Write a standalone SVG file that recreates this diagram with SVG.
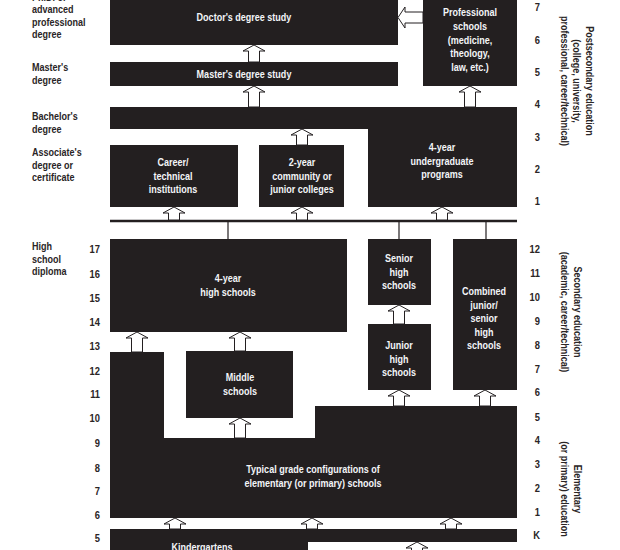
<svg xmlns="http://www.w3.org/2000/svg" width="620" height="550" viewBox="0 0 620 550">
<style>
  .box { fill: #231f20; }
  .t { font-family: "Liberation Sans", Arial, sans-serif; font-weight: bold; font-size: 11px; fill: #f3f5f8; text-anchor: middle; }
  .lab { font-family: "Liberation Sans", Arial, sans-serif; font-weight: bold; font-size: 11px; fill: #2a2526; }
  .num { font-family: "Liberation Sans", Arial, sans-serif; font-weight: bold; font-size: 11px; fill: #2a2526; text-anchor: end; }
  .vt { font-family: "Liberation Sans", Arial, sans-serif; font-weight: bold; font-size: 11px; fill: #2a2526; text-anchor: middle; }
  .arr { fill: #ffffff; stroke: #231f20; stroke-width: 1; stroke-linejoin: miter; }
  .rule { stroke: #231f20; stroke-width: 2.6; fill: none; }
  .vl { stroke: #231f20; stroke-width: 1.2; fill: none; }
</style>
<rect width="620" height="550" fill="#ffffff"/>

<!-- Left level labels -->
<g id="left-labels">
  <text class="lab" transform="translate(32,1) scale(0.82,1)">Ph.D. or</text>
  <text class="lab" transform="translate(32,13) scale(0.82,1)">advanced</text>
  <text class="lab" transform="translate(32,25.5) scale(0.82,1)">professional</text>
  <text class="lab" transform="translate(32,38) scale(0.82,1)">degree</text>
  <text class="lab" transform="translate(32,71) scale(0.82,1)">Master's</text>
  <text class="lab" transform="translate(32,83.5) scale(0.82,1)">degree</text>
  <text class="lab" transform="translate(32,120) scale(0.82,1)">Bachelor's</text>
  <text class="lab" transform="translate(32,132.5) scale(0.82,1)">degree</text>
  <text class="lab" transform="translate(32,156) scale(0.82,1)">Associate's</text>
  <text class="lab" transform="translate(32,168.5) scale(0.82,1)">degree or</text>
  <text class="lab" transform="translate(32,181) scale(0.82,1)">certificate</text>
  <text class="lab" transform="translate(32,250) scale(0.82,1)">High</text>
  <text class="lab" transform="translate(32,262.5) scale(0.82,1)">school</text>
  <text class="lab" transform="translate(32,275) scale(0.82,1)">diploma</text>
</g>

<!-- Age numbers (left) -->
<g id="ages">
  <text class="num" transform="translate(100,253) scale(0.85,1)">17</text>
  <text class="num" transform="translate(100,278) scale(0.85,1)">16</text>
  <text class="num" transform="translate(100,302) scale(0.85,1)">15</text>
  <text class="num" transform="translate(100,326) scale(0.85,1)">14</text>
  <text class="num" transform="translate(100,350) scale(0.85,1)">13</text>
  <text class="num" transform="translate(100,375) scale(0.85,1)">12</text>
  <text class="num" transform="translate(100,398) scale(0.85,1)">11</text>
  <text class="num" transform="translate(100,422) scale(0.85,1)">10</text>
  <text class="num" transform="translate(100,447) scale(0.85,1)">9</text>
  <text class="num" transform="translate(100,472) scale(0.85,1)">8</text>
  <text class="num" transform="translate(100,495) scale(0.85,1)">7</text>
  <text class="num" transform="translate(100,519) scale(0.85,1)">6</text>
  <text class="num" transform="translate(100,542) scale(0.85,1)">5</text>
</g>

<!-- Grade / year numbers (right) -->
<g id="grades">
  <text class="num" transform="translate(540,11) scale(0.85,1)">7</text>
  <text class="num" transform="translate(540,44) scale(0.85,1)">6</text>
  <text class="num" transform="translate(540,76) scale(0.85,1)">5</text>
  <text class="num" transform="translate(540,108) scale(0.85,1)">4</text>
  <text class="num" transform="translate(540,141) scale(0.85,1)">3</text>
  <text class="num" transform="translate(540,173) scale(0.85,1)">2</text>
  <text class="num" transform="translate(540,205) scale(0.85,1)">1</text>
  <text class="num" transform="translate(540,253) scale(0.85,1)">12</text>
  <text class="num" transform="translate(540,277) scale(0.85,1)">11</text>
  <text class="num" transform="translate(540,301) scale(0.85,1)">10</text>
  <text class="num" transform="translate(540,325) scale(0.85,1)">9</text>
  <text class="num" transform="translate(540,349) scale(0.85,1)">8</text>
  <text class="num" transform="translate(540,373) scale(0.85,1)">7</text>
  <text class="num" transform="translate(540,396) scale(0.85,1)">6</text>
  <text class="num" transform="translate(540,421) scale(0.85,1)">5</text>
  <text class="num" transform="translate(540,444) scale(0.85,1)">4</text>
  <text class="num" transform="translate(540,468) scale(0.85,1)">3</text>
  <text class="num" transform="translate(540,492) scale(0.85,1)">2</text>
  <text class="num" transform="translate(540,516) scale(0.85,1)">1</text>
  <text class="num" transform="translate(540,539) scale(0.85,1)">K</text>
</g>

<!-- Vertical section labels -->
<g id="section-labels">
  <text class="vt" transform="translate(585.5,81) rotate(90) scale(0.82,1)">Postsecondary education</text>
  <text class="vt" transform="translate(573,81) rotate(90) scale(0.82,1)">(college, university,</text>
  <text class="vt" transform="translate(560.5,81) rotate(90) scale(0.82,1)">professional, career/technical)</text>
  <text class="vt" transform="translate(573.5,312) rotate(90) scale(0.82,1)">Secondary education</text>
  <text class="vt" transform="translate(560.5,312) rotate(90) scale(0.82,1)">(academic, career/technical)</text>
  <text class="vt" transform="translate(573.5,489) rotate(90) scale(0.82,1)">Elementary</text>
  <text class="vt" transform="translate(560.5,489) rotate(90) scale(0.82,1)">(or primary) education</text>
</g>

<!-- Nodes -->
<g id="doctor">
  <rect class="box" x="110" y="-10" width="288" height="55"/>
  <text class="t" transform="translate(244,21) scale(0.82,1)">Doctor's degree study</text>
</g>
<g id="professional">
  <rect class="box" x="423" y="-10" width="94" height="96"/>
  <text class="t" transform="translate(470,16) scale(0.82,1)">Professional</text>
  <text class="t" transform="translate(470,30) scale(0.82,1)">schools</text>
  <text class="t" transform="translate(470,44) scale(0.82,1)">(medicine,</text>
  <text class="t" transform="translate(470,57) scale(0.82,1)">theology,</text>
  <text class="t" transform="translate(470,71) scale(0.82,1)">law, etc.)</text>
</g>
<g id="masters">
  <rect class="box" x="110" y="62" width="288" height="24"/>
  <text class="t" transform="translate(244,78) scale(0.82,1)">Master's degree study</text>
</g>
<g id="bachelors">
  <path class="box" d="M110,107 H517 V207 H368 V129 H110 Z"/>
  <text class="t" transform="translate(442,151) scale(0.82,1)">4-year</text>
  <text class="t" transform="translate(442,165) scale(0.82,1)">undergraduate</text>
  <text class="t" transform="translate(442,178) scale(0.82,1)">programs</text>
</g>
<g id="career">
  <rect class="box" x="110" y="145" width="128" height="62"/>
  <text class="t" transform="translate(173,166) scale(0.82,1)">Career/</text>
  <text class="t" transform="translate(173,179.5) scale(0.82,1)">technical</text>
  <text class="t" transform="translate(173,193) scale(0.82,1)">institutions</text>
</g>
<g id="two-year">
  <rect class="box" x="259" y="145" width="85" height="62"/>
  <text class="t" transform="translate(302,166) scale(0.82,1)">2-year</text>
  <text class="t" transform="translate(302,179.5) scale(0.82,1)">community or</text>
  <text class="t" transform="translate(302,193) scale(0.82,1)">junior colleges</text>
</g>
<g id="four-year-hs">
  <rect class="box" x="110" y="239" width="237" height="93"/>
  <text class="t" transform="translate(228,282) scale(0.82,1)">4-year</text>
  <text class="t" transform="translate(228,295.5) scale(0.82,1)">high schools</text>
</g>
<g id="senior-high">
  <rect class="box" x="368" y="239" width="63" height="66"/>
  <text class="t" transform="translate(399,262) scale(0.82,1)">Senior</text>
  <text class="t" transform="translate(399,275.5) scale(0.82,1)">high</text>
  <text class="t" transform="translate(399,289) scale(0.82,1)">schools</text>
</g>
<g id="junior-high">
  <rect class="box" x="368" y="324" width="63" height="66"/>
  <text class="t" transform="translate(399,349) scale(0.82,1)">Junior</text>
  <text class="t" transform="translate(399,362.5) scale(0.82,1)">high</text>
  <text class="t" transform="translate(399,376) scale(0.82,1)">schools</text>
</g>
<g id="combined">
  <rect class="box" x="453" y="239" width="64" height="151"/>
  <text class="t" transform="translate(484,295) scale(0.82,1)">Combined</text>
  <text class="t" transform="translate(484,308.5) scale(0.82,1)">junior/</text>
  <text class="t" transform="translate(484,322) scale(0.82,1)">senior</text>
  <text class="t" transform="translate(484,335.5) scale(0.82,1)">high</text>
  <text class="t" transform="translate(484,349) scale(0.82,1)">schools</text>
</g>
<g id="middle">
  <rect class="box" x="186" y="351" width="107" height="67"/>
  <text class="t" transform="translate(240,381) scale(0.82,1)">Middle</text>
  <text class="t" transform="translate(240,394.5) scale(0.82,1)">schools</text>
</g>
<g id="elementary">
  <path class="box" d="M110,352 H164 V438 H315 V406 H517 V518 H110 Z"/>
  <text class="t" transform="translate(313,473) scale(0.82,1)">Typical grade configurations of</text>
  <text class="t" transform="translate(313,486.5) scale(0.82,1)">elementary (or primary) schools</text>
</g>
<g id="kindergarten">
  <path class="box" d="M110,529 H517 V542 H308 V560 H110 Z"/>
  <text class="t" transform="translate(202,551) scale(0.82,1)">Kindergartens</text>
</g>

<!-- Connectors -->
<g id="connectors">
  <line class="rule" x1="110" y1="221" x2="517" y2="221"/>
  <line class="vl" x1="228" y1="221" x2="228" y2="239"/>
  <line class="vl" x1="399" y1="221" x2="399" y2="239"/>
  <line class="vl" x1="486" y1="221" x2="486" y2="239"/>

  <path class="arr" d="M254,45 L265,51 L259.5,51 L259.5,62 L248.5,62 L248.5,51 L243,51 Z"/>
  <path class="arr" d="M254,86 L265,92 L259.5,92 L259.5,107 L248.5,107 L248.5,92 L243,92 Z"/>
  <path class="arr" d="M470,86 L481,92 L475.5,92 L475.5,107 L464.5,107 L464.5,92 L459,92 Z"/>
  <path class="arr" d="M302,129 L313,135 L307.5,135 L307.5,145 L296.5,145 L296.5,135 L291,135 Z"/>
  <path class="arr" d="M174,207 L185,213 L179.5,213 L179.5,220 L168.5,220 L168.5,213 L163,213 Z"/>
  <path class="arr" d="M302,207 L313,213 L307.5,213 L307.5,220 L296.5,220 L296.5,213 L291,213 Z"/>
  <path class="arr" d="M442,207 L453,213 L447.5,213 L447.5,220 L436.5,220 L436.5,213 L431,213 Z"/>
  <path class="arr" d="M137,332 L148,338 L142.5,338 L142.5,352 L131.5,352 L131.5,338 L126,338 Z"/>
  <path class="arr" d="M240,332 L251,338 L245.5,338 L245.5,351 L234.5,351 L234.5,338 L229,338 Z"/>
  <path class="arr" d="M399,305 L410,311 L404.5,311 L404.5,324 L393.5,324 L393.5,311 L388,311 Z"/>
  <path class="arr" d="M399,390 L410,396 L404.5,396 L404.5,406 L393.5,406 L393.5,396 L388,396 Z"/>
  <path class="arr" d="M485,390 L496,396 L490.5,396 L490.5,406 L479.5,406 L479.5,396 L474,396 Z"/>
  <path class="arr" d="M240,418 L251,424 L245.5,424 L245.5,438 L234.5,438 L234.5,424 L229,424 Z"/>
  <path class="arr" d="M175,518 L186,524 L180.5,524 L180.5,529 L169.5,529 L169.5,524 L164,524 Z"/>
  <path class="arr" d="M312,518 L323,524 L317.5,524 L317.5,529 L306.5,529 L306.5,524 L301,524 Z"/>
  <path class="arr" d="M451,518 L462,524 L456.5,524 L456.5,529 L445.5,529 L445.5,524 L440,524 Z"/>
  <path class="arr" d="M417,542 L428,548 L422.5,548 L422.5,556 L411.5,556 L411.5,548 L406,548 Z"/>
  <path class="arr" d="M398,17.5 L405,7 L405,12 L423,12 L423,23 L405,23 L405,28 Z"/>
</g>
</svg>
